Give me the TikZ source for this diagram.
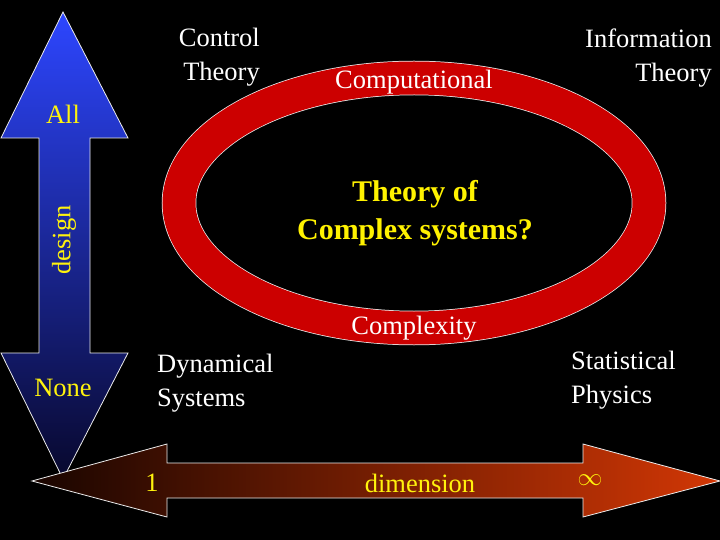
\documentclass[tikz,border=0pt]{standalone}
\usepackage{fontspec}
\setmainfont{Liberation Serif}
\begin{document}
\begin{tikzpicture}[x=1pt,y=-1pt,
  lbl/.style={text=white,font=\fontsize{26.5}{33.5}\selectfont,align=center,inner sep=0pt},
  yl/.style={lbl,text=yellow!95!white},
  outl/.style={draw=white!85!gray,line width=0.8pt}]
\useasboundingbox[fill=black] (0,0) rectangle (720,540);
% vertical arrow
\shade[top color={rgb,255:red,45;green,70;blue,255},bottom color={rgb,255:red,8;green,8;blue,45},outl]
 (63,12) -- (128,138) -- (90,138) -- (90,353) -- (128,353) -- (63,479) -- (1,353) -- (39,353) -- (39,138) -- (1,138) -- cycle;
% horizontal arrow
\shade[left color={rgb,255:red,25;green,5;blue,0},right color={rgb,255:red,210;green,55;blue,5},outl]
 (32,481) -- (167,444) -- (167,463) -- (583,463) -- (583,444) -- (720,481) -- (583,517) -- (583,498) -- (167,498) -- (167,517) -- cycle;
% ellipse ring
\draw[white!85!gray,line width=34.5pt] (414,203) ellipse [x radius=235,y radius=125];
\draw[red!80!black,line width=33pt] (414,203) ellipse [x radius=235,y radius=125];
% labels
\node[yl] (all) at (63,114) {All};
\node[yl] (none) at (63,388) {None};
\node[yl,rotate=90] (design) at (64,240) {design};
\node[lbl,align=right,anchor=east] (ct) at (260,57) {Control\\Theory};
\node[lbl] (comp) at (414,82) {Computational};
\node[lbl,align=right,anchor=east] (it) at (712,58) {Information\\Theory};
\node[lbl,text=yellow,font=\fontsize{30}{38}\selectfont\bfseries] (tcs) at (415,213) {Theory of\\Complex systems?};
\node[lbl] (cx) at (414,328) {Complexity};
\node[lbl,align=left,anchor=west] (ds) at (157,383) {Dynamical\\Systems};
\node[lbl,align=left,anchor=west] (sp) at (571,380) {Statistical\\Physics};
\node[yl] (one) at (152,483) {1};
\node[yl] (dim) at (420,483) {dimension};
\node[yl,font=\fontsize{30}{30}\selectfont] (inf) at (590,480) {$\infty$};
\end{tikzpicture}
\end{document}
